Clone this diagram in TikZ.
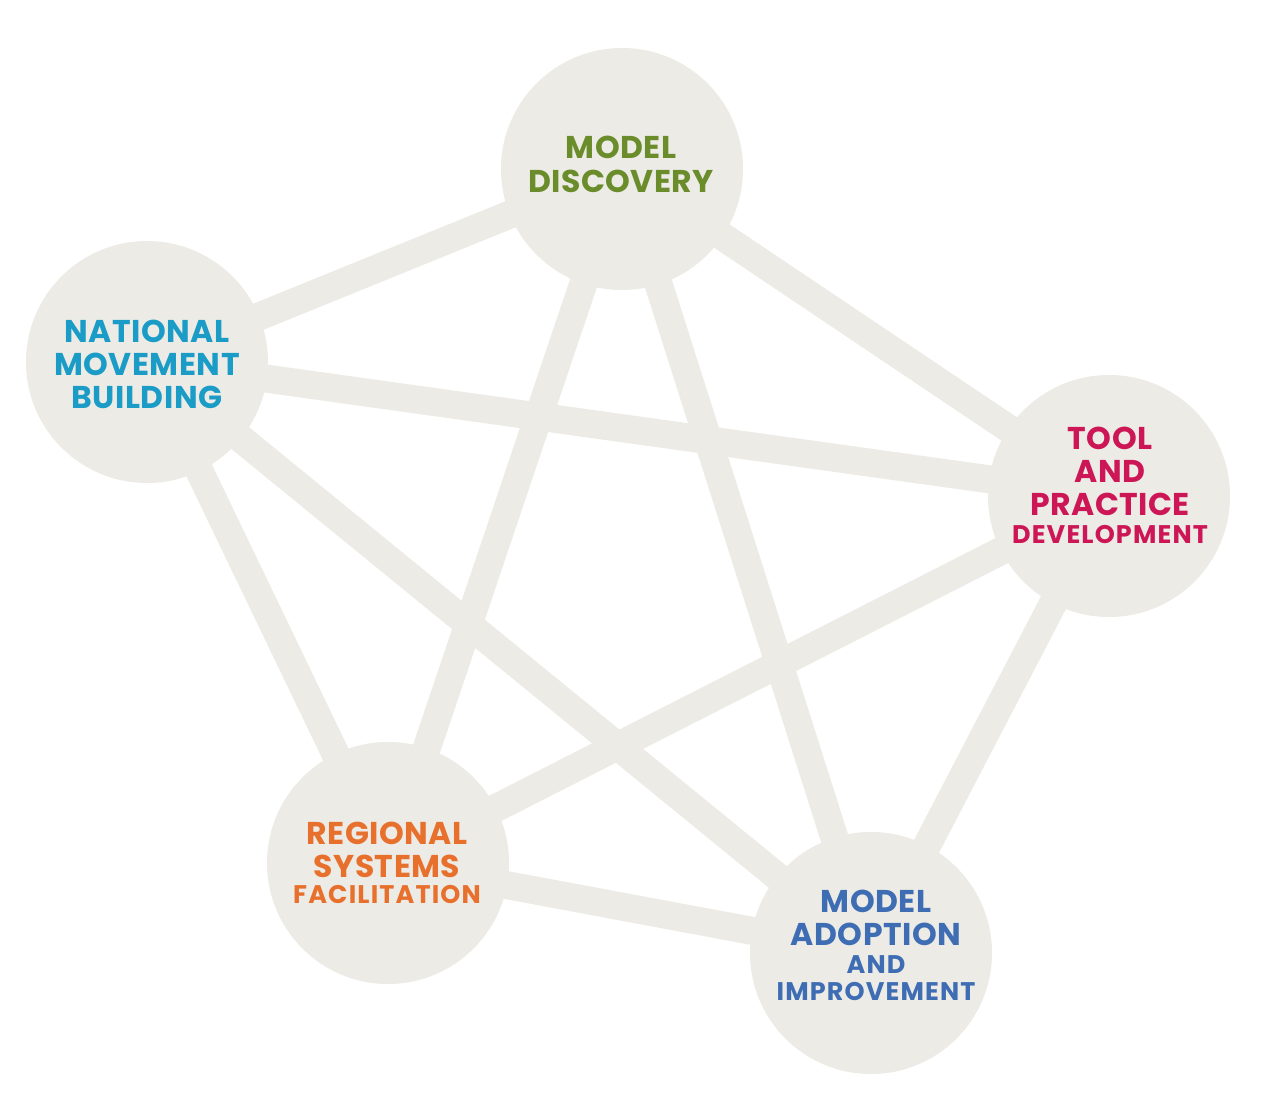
\documentclass[tikz,border=0pt]{standalone}
\usepackage{fontspec}
\newfontfamily\labelfont{Poppins}[LetterSpace=1.5]
\newfontfamily\smalllabelfont{Poppins}[LetterSpace=4.5]
\definecolor{hub}{HTML}{EDEBE6}
\definecolor{cgreen}{HTML}{6A8C2A}
\definecolor{ccyan}{HTML}{1A9CC7}
\definecolor{cmag}{HTML}{CC1656}
\definecolor{corange}{HTML}{E8702D}
\definecolor{cblue}{HTML}{3F6DB4}
\tikzset{
  hubnode/.style={circle, fill=hub, minimum size=242pt, inner sep=0pt},
  link/.style={draw=hub, line width=28pt},
  big/.style={anchor=base, inner sep=0pt, font=\labelfont\bfseries\fontsize{31.5}{31.5}\selectfont},
  small/.style={anchor=base, inner sep=0pt, font=\smalllabelfont\bfseries\fontsize{25.5}{25.5}\selectfont},
}
\begin{document}
\begin{tikzpicture}[x=1pt,y=-1pt]
\useasboundingbox[fill=white] (0,0) rectangle (1269,1097);
\coordinate (cmd) at (622,169);
\coordinate (cnmb) at (147,362);
\coordinate (ctpd) at (1109,496);
\coordinate (crsf) at (388,863);
\coordinate (cmai) at (871,953);
\foreach \a/\b in {cmd/cnmb,cmd/ctpd,cmd/crsf,cmd/cmai,cnmb/ctpd,cnmb/crsf,cnmb/cmai,ctpd/crsf,ctpd/cmai,crsf/cmai}
  \draw[link] (\a) -- (\b);
\node[hubnode] (md) at (cmd) {};
\node[hubnode] (nmb) at (cnmb) {};
\node[hubnode] (tpd) at (ctpd) {};
\node[hubnode] (rsf) at (crsf) {};
\node[hubnode] (mai) at (cmai) {};
% Model Discovery
\node[big, text=cgreen] (md1) at (621,158) {MODEL};
\node[big, text=cgreen] (md2) at (621,192) {DISCOVERY};
% National Movement Building
\node[big, text=ccyan] (nmb1) at (147,342) {NATIONAL};
\node[big, text=ccyan] (nmb2) at (147,375) {MOVEMENT};
\node[big, text=ccyan] (nmb3) at (147,408) {BUILDING};
% Tool and Practice Development
\node[big, text=cmag] (tpd1) at (1110,449) {TOOL};
\node[big, text=cmag] (tpd2) at (1110,482) {AND};
\node[big, text=cmag] (tpd3) at (1110,515) {PRACTICE};
\node[small, text=cmag] (tpd4) at (1110,543) {DEVELOPMENT};
% Regional Systems Facilitation
\node[big, text=corange] (rsf1) at (387,844) {REGIONAL};
\node[big, text=corange] (rsf2) at (387,877) {SYSTEMS};
\node[small, text=corange] (rsf3) at (387,903) {FACILITATION};
% Model Adoption and Improvement
\node[big, text=cblue] (mai1) at (876,912) {MODEL};
\node[big, text=cblue] (mai2) at (876,945) {ADOPTION};
\node[small, text=cblue] (mai3) at (876,973) {AND};
\node[small, text=cblue] (mai4) at (876,1000) {IMPROVEMENT};
\end{tikzpicture}
\end{document}
